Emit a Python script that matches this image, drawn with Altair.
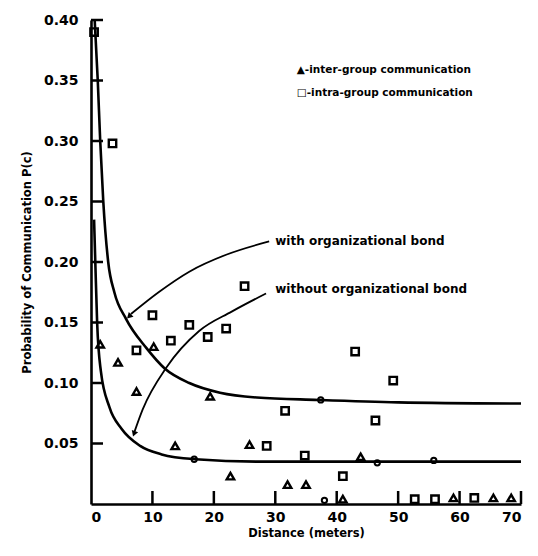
import altair as alt
import pandas as pd

# intra-group communication (squares)
intra_x = [0.5, 3.5, 10, 7.4, 13, 16, 19, 22, 25, 31.6, 28.6, 34.8, 43, 49.2, 46.3, 41, 52.7, 56, 62.4]
intra_y = [0.39, 0.298, 0.156, 0.127, 0.135, 0.148, 0.138, 0.145, 0.18, 0.077, 0.048, 0.040,
           0.126, 0.102, 0.069, 0.023, 0.004, 0.004, 0.005]
# inter-group communication (triangles)
inter_x = [1.5, 4.4, 7.4, 10.2, 19.4, 13.7, 22.7, 25.8, 32, 35, 43.9, 41, 59, 65.5, 68.4]
inter_y = [0.132, 0.117, 0.093, 0.130, 0.089, 0.048, 0.023, 0.049, 0.016, 0.016, 0.039,
           0.004, 0.005, 0.005, 0.005]
# small open nodes on the curves
node_x = [16.8, 37.4, 46.6, 55.8, 38]
node_y = [0.037, 0.086, 0.034, 0.036, 0.003]

# fitted curves
with_x = [0.6, 1.1, 1.5, 2.0, 2.8, 3.8, 5.7, 9, 12, 16, 21, 27, 37, 50, 70]
with_y = [0.40, 0.35, 0.30, 0.25, 0.20, 0.175, 0.153, 0.129, 0.112, 0.100, 0.092, 0.088, 0.086, 0.084, 0.083]
without_x = [0.5, 0.7, 1.0, 1.6, 3.0, 5, 8, 11.5, 17, 27, 48, 70]
without_y = [0.235, 0.20, 0.15, 0.11, 0.08, 0.062, 0.048, 0.041, 0.037, 0.035, 0.035, 0.035]

# annotation arrows
arrow_with_x = [29, 22, 16, 11, 6.5]
arrow_with_y = [0.217, 0.206, 0.192, 0.175, 0.157]
arrow_without_x = [28.5, 22.9, 17.6, 12.3, 8.4, 7.1]
arrow_without_y = [0.174, 0.159, 0.143, 0.113, 0.078, 0.06]
head_x = [6.2, 7.0]
head_y = [0.155, 0.058]
head_angle = [225, 200]

labels = ["with organizational bond", "without organizational bond",
          "\u25b2-inter-group communication", "\u25a1-intra-group communication"]
label_x = [30, 30, 33.5, 33.5]
label_y = [0.217, 0.178, 0.359, 0.340]
label_size = [12, 12, 10.5, 10.5]

y_ticks = [0.05, 0.10, 0.15, 0.20, 0.25, 0.30, 0.35, 0.40]
x_ticks = [10, 20, 30, 40, 50, 60, 70]

W, H = 430, 484
FONT = "DejaVu Sans"
XMAX, YMAX = 70, 0.4
TICK_PX_Y, TICK_PX_X = 12, 13   # inward tick lengths in pixels
xs = alt.Scale(domain=[0, XMAX], nice=False)
ys = alt.Scale(domain=[0, YMAX], nice=False)
x_axis = alt.Axis(values=[0, 10, 20, 30, 40, 50, 60, 70], title="Distance (meters)",
                  labelPadding=6, titlePadding=3, labelFontSize=14)
y_axis = alt.Axis(values=y_ticks, format=".2f", title="Probability of Communication P(c)",
                  labelPadding=13, titlePadding=11, labelFontSize=14)


def X(f="x"):
    return alt.X(f"{f}:Q", scale=xs, axis=x_axis)


def Y(f="y"):
    return alt.Y(f"{f}:Q", scale=ys, axis=y_axis)


curves = pd.DataFrame({
    "x": with_x + without_x,
    "y": with_y + without_y,
    "s": ["with"] * len(with_x) + ["without"] * len(without_x),
})
arrows = pd.DataFrame({
    "x": arrow_with_x + arrow_without_x,
    "y": arrow_with_y + arrow_without_y,
    "s": ["a"] * len(arrow_with_x) + ["b"] * len(arrow_without_x),
})
heads = pd.DataFrame({"x": head_x, "y": head_y, "a": head_angle})
sq = pd.DataFrame({"x": intra_x, "y": intra_y})
tr = pd.DataFrame({"x": inter_x, "y": inter_y})
nd = pd.DataFrame({"x": node_x, "y": node_y})
txt = pd.DataFrame({"x": label_x, "y": label_y, "t": labels, "fs": label_size})
yt = pd.DataFrame({"y": y_ticks})
xt = pd.DataFrame({"x": x_ticks})

curve_layer = alt.Chart(curves).mark_line(color="black", strokeWidth=2.6, interpolate="monotone").encode(
    x=X(), y=Y(), detail="s:N")
arrow_layer = alt.Chart(arrows).mark_line(color="black", strokeWidth=1.8, interpolate="monotone").encode(
    x=X(), y=Y(), detail="s:N")
head_layer = alt.Chart(heads).mark_point(shape="triangle-up", filled=True, color="black", size=45, opacity=1).encode(
    x=X(), y=Y(), angle=alt.Angle("a:Q", scale=None))
sq_layer = alt.Chart(sq).mark_point(shape="square", filled=False, color="black", strokeWidth=2.4, size=55, opacity=1).encode(
    x=X(), y=Y())
tr_layer = alt.Chart(tr).mark_point(shape="triangle-up", filled=False, color="black", strokeWidth=2.4, size=55, opacity=1).encode(
    x=X(), y=Y())
nd_layer = alt.Chart(nd).mark_point(shape="circle", filled=False, color="black", strokeWidth=2, size=28, opacity=1).encode(
    x=X(), y=Y())
# inward ticks: short rules starting at the axes
ytick_layer = alt.Chart(yt).mark_rule(color="black", strokeWidth=2.5).encode(
    y=Y(), x=alt.datum(0), x2=alt.datum(XMAX * TICK_PX_Y / W))
xtick_layer = alt.Chart(xt).mark_rule(color="black", strokeWidth=2.5).encode(
    x=X(), y=alt.datum(0), y2=alt.datum(YMAX * TICK_PX_X / H))
text_layer = alt.Chart(txt).mark_text(align="left", baseline="middle", font=FONT, fontWeight="bold", color="black").encode(
    x=X(), y=Y(), text="t:N", size=alt.Size("fs:Q", scale=None, legend=None))

chart = alt.layer(
    curve_layer, arrow_layer, head_layer, sq_layer, tr_layer, nd_layer,
    ytick_layer, xtick_layer, text_layer
).properties(
    width=W, height=H,
    autosize=alt.AutoSizeParams(type="none"),
    padding={"left": 83, "top": 12, "right": 9, "bottom": 38},
    background="white",
).configure_view(stroke=None).configure_axis(
    grid=False, ticks=False, domainColor="black", domainWidth=2.6,
    labelFont=FONT, labelFontWeight="bold", labelColor="black",
    titleFont=FONT, titleFontWeight="bold", titleColor="black", titleFontSize=11.5,
)

chart.save("out.html", embed_options={"renderer": "svg", "actions": False})
